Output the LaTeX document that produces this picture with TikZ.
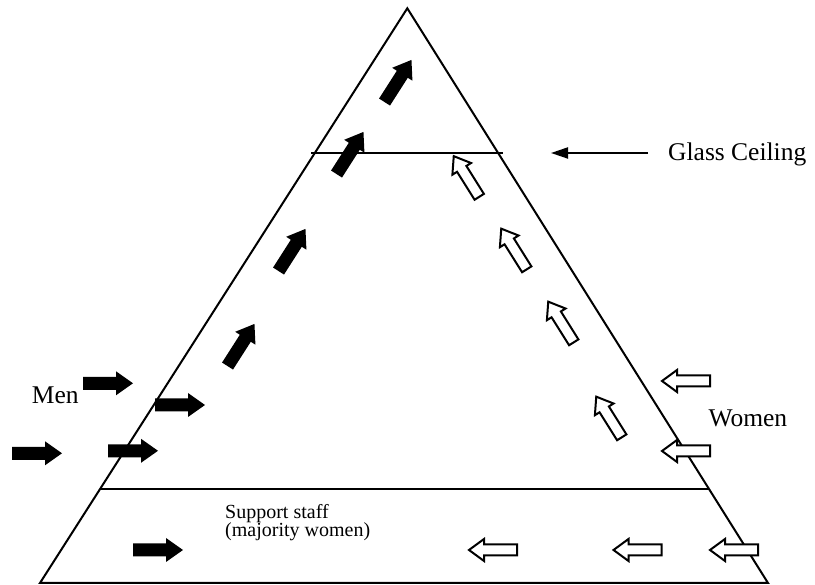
\documentclass[tikz,border=0pt]{standalone}
\usepackage{fontspec}
\setmainfont{Liberation Serif}
\usetikzlibrary{arrows.meta}
\tikzset{
  blkarrow/.pic={\fill[black] (-25,-6.5) -- (8,-6.5) -- (8,-12) -- (25,0) -- (8,12) -- (8,6.5) -- (-25,6.5) -- cycle;},
  wharrow/.pic={\filldraw[fill=white, draw=black, line width=2pt, line join=miter]
     (-24,-5.5) -- (9,-5.5) -- (9,-11) -- (24,0) -- (9,11) -- (9,5.5) -- (-24,5.5) -- cycle;},
  edge/.style={line width=2pt},
  bigtxt/.style={font=\fontsize{25.5}{28}\selectfont, inner sep=0pt},
  smalltxt/.style={font=\fontsize{20}{22}\selectfont, inner sep=0pt},
}
\begin{document}
\begin{tikzpicture}[x=1pt,y=1pt]
\useasboundingbox (0,0) rectangle (815,585);
% pyramid
\coordinate (apex) at (407.3,576.7);
\coordinate (bl) at (40,2);
\coordinate (br) at (768,2);
\draw[edge, line join=miter] (bl) -- (apex) -- (br) -- cycle;
% glass ceiling and support-staff lines
\coordinate (gl) at (311,432);
\coordinate (gr) at (503,432);
\draw[edge] (gl) -- (gr);
\coordinate (sl) at (101,96);
\coordinate (sr) at (709,96);
\draw[edge] (sl) -- (sr);
% labels
\node[bigtxt, anchor=base west] (gc) at (668,424.3) {Glass Ceiling};
\coordinate (gcs) at (648,432);
\coordinate (gce) at (551,432);
\draw[edge, -{Triangle[length=17pt,width=11pt]}] (gcs) -- (gce);
\node[bigtxt, anchor=base west] (men) at (31.7,181.7) {Men};
\node[bigtxt, anchor=base west] (women) at (708.3,158.3) {Women};
\node[smalltxt, anchor=base west] (sup1) at (225,66.5) {Support staff};
\node[smalltxt, anchor=base west] (sup2) at (225,48) {(majority women)};
% black horizontal arrows (men entering)
\pic at (108,201.7) {blkarrow};
\pic at (180,180) {blkarrow};
\pic at (37,131.7) {blkarrow};
\pic at (133,134.2) {blkarrow};
\pic at (158,35) {blkarrow};
% black diagonal arrows (men rising)
\pic[rotate=57.4] at (241,240) {blkarrow};
\pic[rotate=57.4] at (292,335) {blkarrow};
\pic[rotate=57.4] at (350,432) {blkarrow};
\pic[rotate=57.4] at (398,504) {blkarrow};
% white horizontal arrows (women entering)
\pic[rotate=180] at (686,204) {wharrow};
\pic[rotate=180] at (686,134) {wharrow};
\pic[rotate=180] at (493,35) {wharrow};
\pic[rotate=180] at (637.5,35) {wharrow};
\pic[rotate=180] at (734,35) {wharrow};
% white diagonal arrows (women rising)
\pic[rotate=122.1] at (609,168) {wharrow};
\pic[rotate=122.1] at (561,263) {wharrow};
\pic[rotate=122.1] at (514,336) {wharrow};
\pic[rotate=122.1] at (466.5,408.5) {wharrow};
\end{tikzpicture}
\end{document}
